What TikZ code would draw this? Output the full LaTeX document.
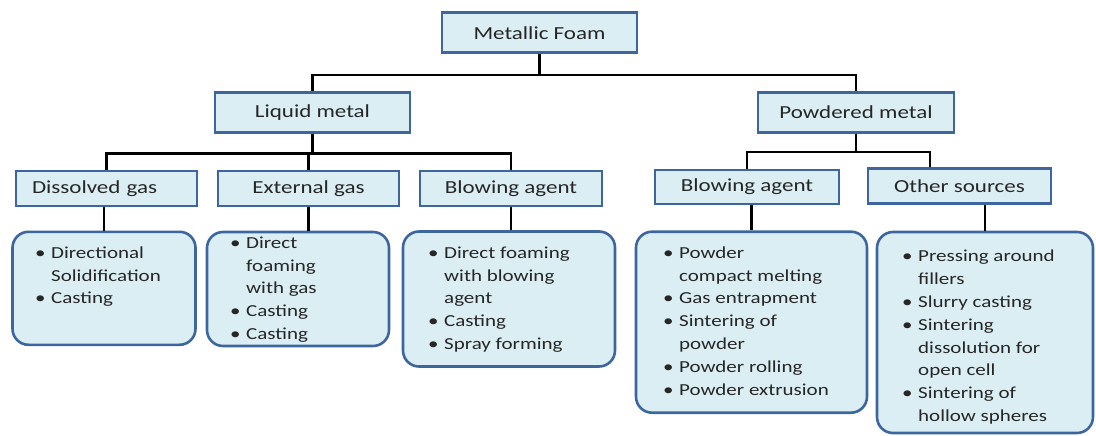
\documentclass[tikz,border=0pt]{standalone}
\usepackage{fontspec}
\setmainfont{Carlito}[FakeStretch=1.25]
\usetikzlibrary{positioning, calc}
\definecolor{boxfill}{RGB}{219,238,244}
\definecolor{boxline}{RGB}{62,102,158}
\definecolor{textgray}{RGB}{38,38,38}
\newcommand{\bul}{\makebox[16pt][l]{\textbullet}}
\newcommand{\cont}{\hspace*{16pt}}

\begin{document}
\begin{tikzpicture}[
    x=1pt, y=-1pt,
    font=\fontsize{18.4}{22}\selectfont, text=textgray,
    category/.style={
        rectangle, draw=boxline, line width=2.6pt,
        fill=boxfill, inner sep=0pt
    },
    listbox/.style={
        rectangle, rounded corners=16pt, draw=boxline, line width=2.6pt,
        fill=boxfill, inner sep=0pt
    },
    listtext/.style={
        anchor=north west, align=left, inner sep=0pt,
        font=\fontsize{16.8}{22.8}\selectfont
    },
    line/.style={draw=black, line width=2.4pt}
]
\useasboundingbox (0,0) rectangle (1096,436);

% ---------------------------------------------------------------------
% 1. TOP: METALLIC FOAM
% ---------------------------------------------------------------------
\node[category, minimum width=195pt, minimum height=40pt] (Foam) at (539.5, 32.7) {Metallic Foam};

% ---------------------------------------------------------------------
% 2. LEFT: LIQUID METAL
% ---------------------------------------------------------------------
\node[category, minimum width=195pt, minimum height=39.6pt] (Liquid) at (312.5, 112.5) {Liquid metal};

\node[category, minimum width=181pt, minimum height=35pt, text width=149pt, align=left] (Dissolved) at (106.5, 188.5) {Dissolved gas};
\node[category, minimum width=181pt, minimum height=35pt] (External) at (308.5, 188.5) {External gas};
\node[category, minimum width=182pt, minimum height=35pt] (BlowLiq) at (511, 188.5) {Blowing agent};

\node[listbox, minimum width=183pt, minimum height=113pt] (ListDis) at (104, 288.3) {};
\node[listbox, minimum width=182pt, minimum height=114pt] (ListExt) at (298, 289) {};
\node[listbox, minimum width=212pt, minimum height=135pt] (ListBlowLiq) at (509, 299) {};

\node[listtext] (TextDis) at (35, 246.5) {\bul Directional\\ \cont Solidification\\ \bul Casting};
\node[listtext] (TextExt) at (230, 236.5) {\bul Direct\\ \cont foaming\\ \cont with gas\\ \bul Casting\\ \bul Casting};
\node[listtext] (TextBlowLiq) at (428, 246.5) {\bul Direct foaming\\ \cont with blowing\\ \cont agent\\ \bul Casting\\ \bul Spray forming};

% ---------------------------------------------------------------------
% 3. RIGHT: POWDERED METAL
% ---------------------------------------------------------------------
\node[category, minimum width=196pt, minimum height=39.6pt] (Powder) at (856, 112.5) {Powdered metal};

\node[category, minimum width=184pt, minimum height=34pt] (BlowPow) at (747, 187) {Blowing agent};
\node[category, minimum width=183pt, minimum height=35pt] (Other) at (959.5, 186) {Other sources};

\node[listbox, minimum width=231pt, minimum height=181pt] (ListBlowPow) at (751.5, 322.2) {};
\node[listbox, minimum width=216pt, minimum height=201pt] (ListOther) at (985, 332.5) {};

\node[listtext] (TextBlowPow) at (663, 246.5) {\bul Powder\\ \cont compact melting\\ \bul Gas entrapment\\ \bul Sintering of\\ \cont powder\\ \bul Powder rolling\\ \bul Powder extrusion};
\node[listtext] (TextOther) at (902, 250) {\bul Pressing around\\ \cont fillers\\ \bul Slurry casting\\ \bul Sintering\\ \cont dissolution for\\ \cont open cell\\ \bul Sintering of\\ \cont hollow spheres};

% ---------------------------------------------------------------------
% CONNECTORS
% ---------------------------------------------------------------------
\draw[line] (Foam.south) -- ++(0,21.3) -| (Liquid.north);
\draw[line] (Foam.south) -- ++(0,21.3) -| (Powder.north);

\draw[line] (Liquid.south) -- ++(0,20) -| (Dissolved.north);
\draw[line] (Liquid.south) -- ++(0,20) -| (External.north);
\draw[line] (Liquid.south) -- ++(0,20) -| (BlowLiq.north);

\draw[line] (Powder.south) -- ++(0,18.4) -| (BlowPow.north);
\draw[line] (Powder.south) -- ++(0,18.4) -| ($(Other.north west)+(63,0)$);

\draw[line] (ListDis.north) -- (ListDis.north |- Dissolved.south);
\draw[line] (External.south) -- (External.south |- ListExt.north);
\draw[line] (BlowLiq.south) -- (BlowLiq.south |- ListBlowLiq.north);
\draw[line] (ListBlowPow.north) -- (ListBlowPow.north |- BlowPow.south);
\draw[line] (ListOther.north) -- (ListOther.north |- Other.south);

\end{tikzpicture}
\end{document}
